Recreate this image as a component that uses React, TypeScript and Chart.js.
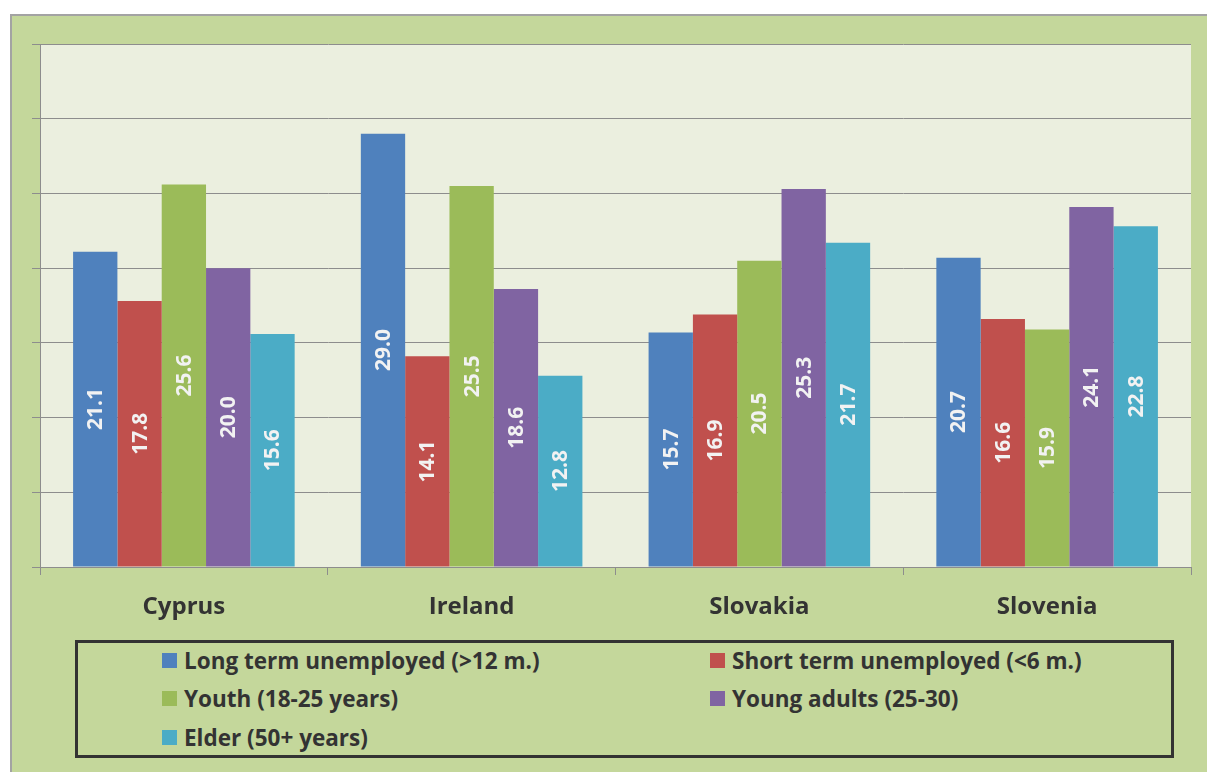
import React, { useEffect, useRef } from "react";
import { Chart, registerables } from "chart.js";

Chart.register(...registerables);

const categories = ["Cyprus", "Ireland", "Slovakia", "Slovenia"];
const seriesNames = [
  "Long term unemployed (>12 m.)",
  "Short term unemployed (<6 m.)",
  "Youth (18-25 years)",
  "Young adults (25-30)",
  "Elder (50+ years)",
];
const longTerm = [21.1, 29.0, 15.7, 20.7];
const shortTerm = [17.8, 14.1, 16.9, 16.6];
const youth = [25.6, 25.5, 20.5, 15.9];
const youngAdults = [20.0, 18.6, 25.3, 24.1];
const elder = [15.6, 12.8, 21.7, 22.8];
const colors = ["#4f81bd", "#c0504d", "#9bbb59", "#8064a2", "#4bacc6"];
const yMax = 35;
const yStep = 5;

const FONT = "'Open Sans', 'Noto Sans', sans-serif";

const plotBg = {
  id: "plotBg",
  beforeDraw(chart: any) {
    const { ctx, chartArea } = chart;
    ctx.save();
    ctx.fillStyle = "#ebefdf";
    ctx.fillRect(chartArea.left, chartArea.top, chartArea.right - chartArea.left, chartArea.bottom - chartArea.top);
    ctx.restore();
  },
};

const barLabels = {
  id: "barLabels",
  afterDatasetsDraw(chart: any) {
    const { ctx } = chart;
    ctx.save();
    ctx.fillStyle = "#f2f2f2";
    ctx.font = `bold 21px ${FONT}`;
    ctx.textAlign = "center";
    ctx.textBaseline = "middle";
    chart.data.datasets.forEach((ds: any, i: number) => {
      const meta = chart.getDatasetMeta(i);
      meta.data.forEach((bar: any, j: number) => {
        const v = ds.data[j];
        const cy = (bar.y + bar.base) / 2;
        ctx.save();
        ctx.translate(bar.x, cy);
        ctx.rotate(-Math.PI / 2);
        ctx.fillText(v.toFixed(1), 0, 1);
        ctx.restore();
      });
    });
    ctx.restore();
  },
};

export default function App() {
  const ref = useRef<HTMLCanvasElement>(null);
  useEffect(() => {
    const data = [longTerm, shortTerm, youth, youngAdults, elder];
    const chart = new Chart(ref.current!, {
      type: "bar",
      data: {
        labels: categories,
        datasets: data.map((d, i) => ({
          label: seriesNames[i],
          data: d,
          backgroundColor: colors[i],
          borderWidth: 0,
          categoryPercentage: 0.77,
          barPercentage: 1,
        })),
      },
      options: {
        animation: false,
        responsive: false,
        maintainAspectRatio: false,
        layout: { padding: { left: 32, top: 44, right: 16, bottom: 0 } },
        plugins: { legend: { display: false }, tooltip: { enabled: false } },
        scales: {
          y: {
            min: 0,
            max: yMax,
            ticks: { display: false, stepSize: yStep },
            grid: { color: "#8d8d8d", lineWidth: 1, tickLength: 8, drawTicks: true },
            border: { display: true, color: "#8d8d8d", width: 1 },
            afterFit: (s: any) => {
              s.width = 8;
            },
          },
          x: {
            ticks: {
              color: "#333333",
              font: { family: FONT, size: 24, weight: "bold" },
              padding: 18,
            },
            grid: { drawOnChartArea: false, drawTicks: true, tickLength: 8, color: "#8d8d8d", offset: true },
            border: { display: true, color: "#8d8d8d", width: 1 },
            afterFit: (s: any) => {
              s.height = 73;
            },
          },
        },
      },
      plugins: [plotBg, barLabels],
    });
    return () => chart.destroy();
  }, []);

  const legendItem = (i: number, x: number, y: number) => (
    <div
      key={i}
      style={{ position: "absolute", left: x, top: y - 15, height: 30, display: "flex", alignItems: "center" }}
    >
      <div style={{ width: 15, height: 15, background: colors[i], marginRight: 7 }} />
      <span style={{ fontFamily: FONT, fontWeight: 700, fontSize: 22.5, color: "#333333", whiteSpace: "nowrap" }}>
        {seriesNames[i]}
      </span>
    </div>
  );

  return (
    <div style={{ position: "fixed", left: 0, top: 0, width: 1207, height: 772, background: "#ffffff", overflow: "hidden" }}>
      <div
        style={{
          position: "absolute",
          left: 10,
          top: 14,
          width: 1200,
          height: 760,
          background: "#c4d79b",
          borderLeft: "2px solid #a3a3a3",
          borderTop: "2px solid #a3a3a3",
        }}
      />
      <canvas ref={ref} width={1207} height={640} style={{ position: "absolute", left: 0, top: 0, width: 1207, height: 640 }} />
      <div
        style={{
          position: "absolute",
          left: 75,
          top: 640,
          width: 1093,
          height: 112,
          border: "3px solid #333333",
        }}
      />
      {legendItem(0, 162, 660)}
      {legendItem(1, 710, 660)}
      {legendItem(2, 162, 698)}
      {legendItem(3, 710, 698)}
      {legendItem(4, 162, 737)}
    </div>
  );
}
